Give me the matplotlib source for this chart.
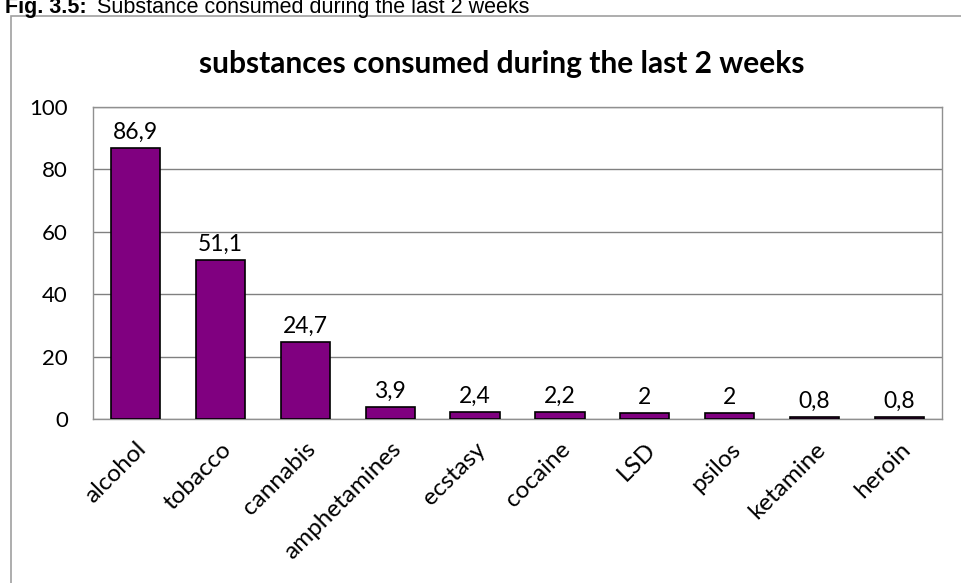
#!/usr/bin/env python3
"""Bar chart: substances consumed during the last 2 weeks"""

import matplotlib
matplotlib.use("Agg")
import matplotlib.pyplot as plt
from matplotlib.patches import Rectangle

# data
substances = ["alcohol", "tobacco", "cannabis", "amphetamines", "ecstasy",
              "cocaine", "LSD", "psilos", "ketamine", "heroin"]
percent = [86.9, 51.1, 24.7, 3.9, 2.4, 2.2, 2.0, 2.0, 0.8, 0.8]
y_ticks = [0, 20, 40, 60, 80, 100]

W, H = 961, 583
CHART_FONT = ["Lato", "DejaVu Sans"]


def fmt_value(v):
    # Dezimalkomma, ganze Zahlen ohne Nachkommastelle
    if float(v).is_integer():
        return str(int(v))
    return f"{v:.1f}".replace(".", ",")


def main():
    fig = plt.figure(figsize=(W / 100, H / 100), dpi=100)

    # outer frame (runs off the right and bottom edge)
    frame = Rectangle((11 / W, -0.05), 1.0, 1 - 16 / H + 0.05,
                      transform=fig.transFigure, fill=False,
                      edgecolor="#a0a0a0", linewidth=1.2)
    fig.patches.append(frame)

    # caption (top is cut off by the image edge, as in the source)
    fig.text(5 / W, 1 - 13 / H, "Fig. 3.5:", fontsize=15.5, fontweight="bold",
             family="Liberation Sans", va="baseline", ha="left")
    fig.text(97 / W, 1 - 13 / H, "Substance consumed during the last 2 weeks",
             fontsize=15.5, family="Liberation Sans", va="baseline", ha="left")

    ax = fig.add_axes([93 / W, 1 - 419 / H, (942 - 93) / W, (419 - 107) / H])
    x = range(len(substances))
    bars = ax.bar(x, percent, width=0.58, color="#800080",
                  edgecolor="black", linewidth=1.2, zorder=3)

    for b, v in zip(bars, percent):
        ax.text(b.get_x() + b.get_width() / 2, v + 1.6, fmt_value(v),
                ha="center", va="bottom", fontsize=16.5, family=CHART_FONT)

    ax.set_xlim(-0.5, len(substances) - 0.5)
    ax.set_ylim(0, 100)
    ax.set_yticks(y_ticks)
    ax.set_yticklabels([str(t) for t in y_ticks], fontsize=16, family=CHART_FONT)
    ax.set_xticks(list(x))
    ax.set_xticklabels(substances, rotation=45, ha="right",
                       rotation_mode="anchor", fontsize=17.5, family=CHART_FONT)
    ax.tick_params(axis="x", length=0, pad=14)
    ax.tick_params(axis="y", length=0, pad=18)

    ax.grid(axis="y", color="#808080", linewidth=1.0, zorder=0)
    for side in ["top", "right", "left", "bottom"]:
        ax.spines[side].set_color("#909090")
        ax.spines[side].set_linewidth(1.0)

    fig.text(502 / W, 1 - 73 / H, "substances consumed during the last 2 weeks",
             fontsize=21.5, fontweight="bold", family=CHART_FONT,
             ha="center", va="baseline")

    fig.savefig("out.png", dpi=100)
    plt.close(fig)


if __name__ == "__main__":
    main()
